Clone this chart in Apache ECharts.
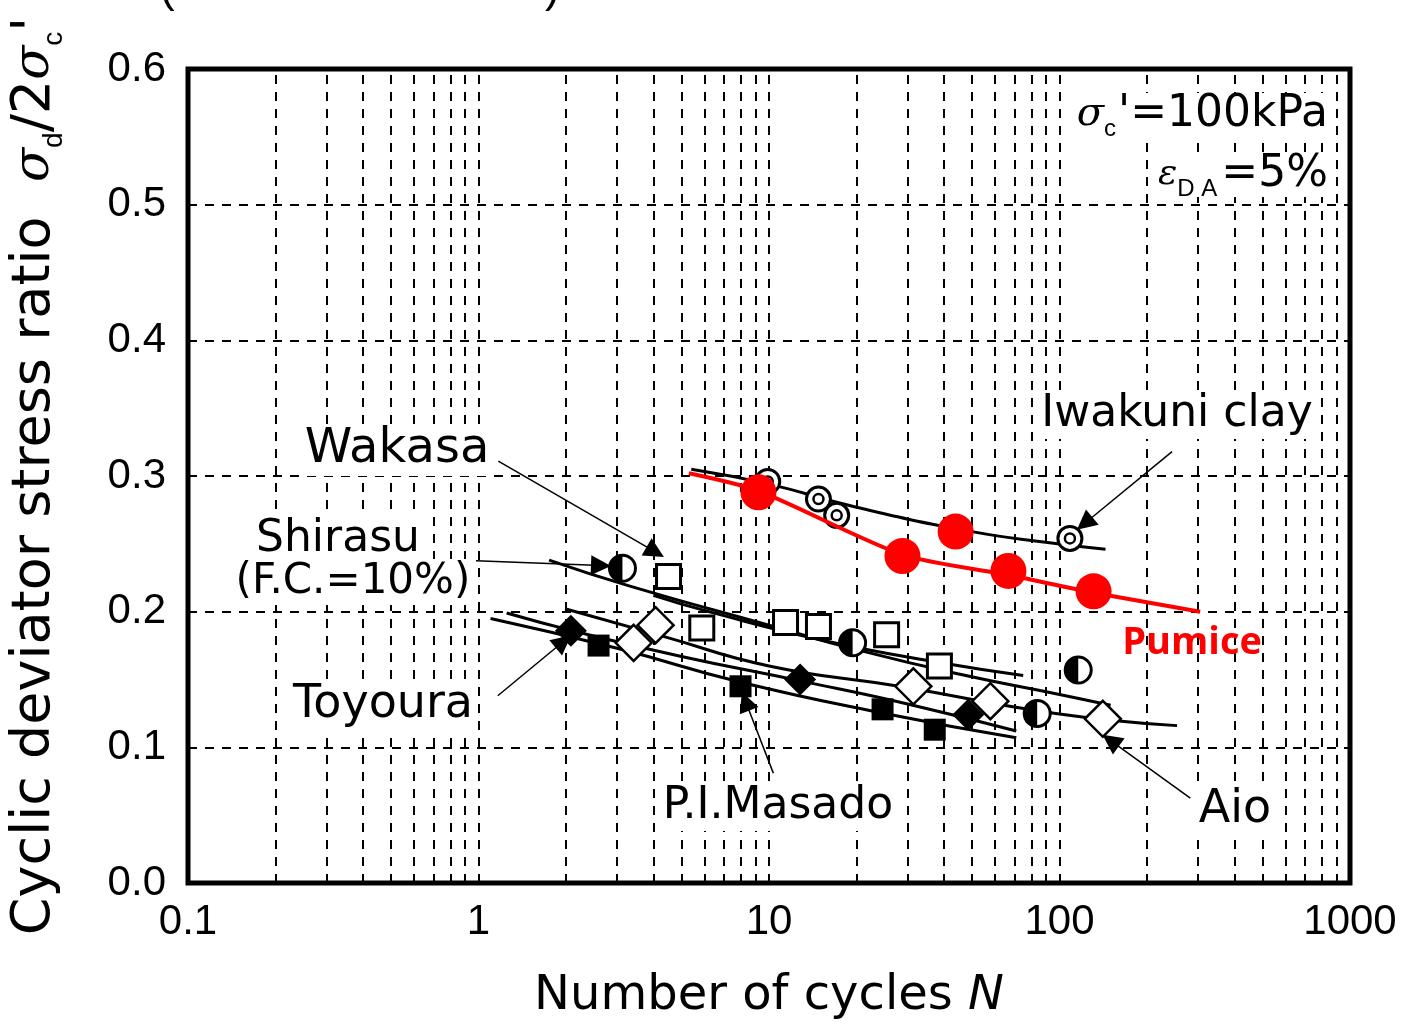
<!DOCTYPE html>
<html lang="en">
<head>
    <meta charset="UTF-8">
    <title>Cyclic deviator stress ratio - Number of cycles</title>
    <script src="https://cdn.jsdelivr.net/npm/echarts@6/dist/echarts.min.js"></script>
</head>
<body style="margin:0; background:#fff;">

<div id="main" style="width:1409px; height:1026px;"></div>

<script>
    // values, [N, sigma_d / 2 sigma_c']
    var pumicePts   = [[9.2, 0.288], [28.8, 0.241], [43.9, 0.259], [66.7, 0.230], [131, 0.215]];
    var pumiceCurve = [[5.3, 0.302], [9.2, 0.289], [28.8, 0.242], [66.7, 0.227], [131, 0.214], [305, 0.200]];

    var iwakuniPts   = [[9.9, 0.296], [14.8, 0.283], [17.1, 0.271], [108.6, 0.254]];
    var iwakuniCurve = [[5.4, 0.305], [10, 0.294], [20, 0.277], [50, 0.259], [91, 0.251], [144, 0.246]];

    var wakasaPts   = [[4.51, 0.226], [5.87, 0.188], [11.4, 0.192], [14.8, 0.189], [25.4, 0.183], [38.6, 0.160]];
    var wakasaCurve = [[4.0, 0.212], [6.2, 0.200], [16, 0.178], [40, 0.162], [75, 0.153]];

    var shirasuPts   = [[3.13, 0.232], [19.4, 0.177], [116, 0.157], [83.8, 0.125]];
    var shirasuCurve = [[1.75, 0.238], [3.3, 0.219], [10, 0.190], [20, 0.172], [45, 0.154], [100, 0.139], [150, 0.131]];

    var toyouraPts   = [[2.08, 0.186], [12.8, 0.150], [48.5, 0.124]];
    var toyouraCurve = [[1.25, 0.199], [2.1, 0.186], [5, 0.167], [12.8, 0.149], [30, 0.132], [71, 0.112]];

    var masadoPts   = [[2.59, 0.175], [7.98, 0.145], [24.6, 0.128], [37.2, 0.113]];
    var masadoCurve = [[1.1, 0.195], [3, 0.173], [8, 0.148], [25, 0.125], [71, 0.107]];

    var aioPts   = [[4.07, 0.190], [3.42, 0.177], [31.4, 0.145], [57.8, 0.134], [141, 0.121]];
    var aioCurve = [[2.0, 0.202], [4.3, 0.182], [10, 0.160], [28, 0.145], [97, 0.125], [254, 0.116]];

    // leader arrows, [tail, head]
    var arrows = [
        [[1.17, 0.311], [4.06, 0.244]],   // Wakasa
        [[0.98, 0.2375], [2.64, 0.234]],  // Shirasu
        [[1.165, 0.138], [1.96, 0.178]],  // Toyoura
        [[10.35, 0.081], [8.3, 0.134]],   // P.I.Masado
        [[282, 0.0625], [150, 0.105]],    // Aio
        [[244, 0.318], [122, 0.265]]      // Iwakuni clay
    ];

    // vertical grid at every 1..9 x decade
    var gridN = [];
    [0.1, 1, 10, 100].forEach(function (d) {
        for (var k = 1; k <= 9; k++) {
            if (d === 0.1 && k === 1) continue;
            gridN.push(+(d * k).toPrecision(3));
        }
    });

    var FONT = '"Liberation Sans", Arial, sans-serif';
    var WIDE = '"DejaVu Sans", sans-serif';
    var SERIF = '"DejaVu Serif", serif';
    var dash = [9, 8];

    function fitLine(data) {
        return {
            type: 'line', data: data, smooth: true, symbol: 'none', z: 3,
            lineStyle: {color: '#000', width: 3}
        };
    }

    function label(text, x, y, size) {
        return {
            type: 'text', x: x, y: y, z: 50,
            style: {
                text: text, font: (size || 46) + 'px ' + WIDE, fill: '#000',
                align: 'center', verticalAlign: 'middle',
                backgroundColor: '#fff', padding: [2, 4]
            }
        };
    }

    var chart = echarts.init(document.getElementById('main'));

    chart.setOption({
        animation: false,
        backgroundColor: '#fff',
        grid: {
            left: 187, top: 69, right: 59, bottom: 141,
            show: true, borderColor: '#000', borderWidth: 5
        },
        xAxis: {
            type: 'log', logBase: 10, min: 0.1, max: 1000,
            name: '{t|Number of cycles }{i|N}',
            nameLocation: 'middle', nameGap: 90,
            nameTextStyle: {
                rich: {
                    t: {fontSize: 48, fontFamily: WIDE, color: '#000'},
                    i: {fontSize: 48, fontFamily: WIDE, color: '#000', fontStyle: 'italic'}
                }
            },
            axisLine: {show: false},
            axisTick: {show: false},
            splitLine: {show: false},
            axisLabel: {
                fontSize: 42, fontFamily: FONT, color: '#000', margin: 18,
                formatter: function (v) { return String(v); }
            }
        },
        yAxis: {
            type: 'value', min: 0, max: 0.6, interval: 0.1,
            name: '{t|Cyclic deviator stress ratio  }{s|σ}{b|d}{t|/2}{s|σ}{b|c}{t|\'}',
            nameLocation: 'middle', nameGap: 126,
            nameTextStyle: {
                rich: {
                    t: {fontSize: 54, fontFamily: WIDE, color: '#000'},
                    s: {fontSize: 50, fontFamily: SERIF, fontStyle: 'italic', color: '#000'},
                    b: {fontSize: 28, fontFamily: FONT, color: '#000', verticalAlign: 'bottom', padding: [0, 0, -6, 0]}
                }
            },
            axisLine: {show: false},
            axisTick: {show: false},
            splitLine: {show: true, lineStyle: {color: '#000', width: 2, type: dash}},
            axisLabel: {
                fontSize: 42, fontFamily: FONT, color: '#000', margin: 22,
                formatter: function (v) { return v.toFixed(1); }
            }
        },
        series: [
            {   // vertical dashed grid
                type: 'line', data: [], z: 1, silent: true,
                markLine: {
                    silent: true, symbol: 'none', label: {show: false},
                    lineStyle: {color: '#000', width: 2, type: dash},
                    data: gridN.map(function (v) { return {xAxis: v}; })
                }
            },
            fitLine(iwakuniCurve),
            fitLine(wakasaCurve),
            fitLine(shirasuCurve),
            fitLine(toyouraCurve),
            fitLine(masadoCurve),
            fitLine(aioCurve),
            {   // Iwakuni clay: double circle
                type: 'scatter', data: iwakuniPts, symbol: 'circle', symbolSize: 24, z: 5,
                itemStyle: {color: '#fff', borderColor: '#000', borderWidth: 3, opacity: 1}
            },
            {
                type: 'scatter', data: iwakuniPts, symbol: 'circle', symbolSize: 10, z: 6,
                itemStyle: {color: '#fff', borderColor: '#000', borderWidth: 2.5, opacity: 1}
            },
            {   // Shirasu: half-filled circle
                type: 'scatter', data: shirasuPts, symbol: 'circle', symbolSize: 26, z: 5,
                itemStyle: {color: '#fff', borderColor: '#000', borderWidth: 3, opacity: 1}
            },
            {
                type: 'scatter', data: shirasuPts, symbol: 'path://M10 0 A10 10 0 0 0 10 20 Z',
                symbolSize: [13, 26], symbolOffset: [-6.5, 0], z: 6,
                itemStyle: {color: '#000', opacity: 1}
            },
            {   // Wakasa: open square
                type: 'scatter', data: wakasaPts, symbol: 'rect', symbolSize: 24, z: 5,
                itemStyle: {color: '#fff', borderColor: '#000', borderWidth: 3, opacity: 1}
            },
            {   // Toyoura: filled diamond
                type: 'scatter', data: toyouraPts, symbol: 'diamond', symbolSize: 32, z: 5,
                itemStyle: {color: '#000', opacity: 1}
            },
            {   // P.I.Masado: filled square
                type: 'scatter', data: masadoPts, symbol: 'rect', symbolSize: 22, z: 5,
                itemStyle: {color: '#000', opacity: 1}
            },
            {   // Aio: open diamond
                type: 'scatter', data: aioPts, symbol: 'diamond', symbolSize: 36, z: 5,
                itemStyle: {color: '#fff', borderColor: '#000', borderWidth: 2.5, opacity: 1}
            },
            {   // leader arrows
                type: 'lines', coordinateSystem: 'cartesian2d', z: 7,
                symbol: ['none', 'triangle'], symbolSize: 20,
                lineStyle: {color: '#000', width: 1.5, opacity: 1},
                data: arrows.map(function (a) { return {coords: a}; })
            },
            {   // Pumice curve
                type: 'line', data: pumiceCurve, smooth: 0.25, symbol: 'none', z: 8,
                lineStyle: {color: '#f00', width: 4}
            },
            {
                type: 'scatter', data: pumicePts, symbol: 'circle', symbolSize: 36, z: 9,
                itemStyle: {color: '#f00', opacity: 1}
            }
        ],
        graphic: [
            label('Wakasa', 397, 450, 48),
            label('Shirasu', 338, 540, 44),
            label('(F.C.=10%)', 353, 582, 42),
            label('Toyoura', 383, 705, 46),
            label('P.I.Masado', 778, 807, 44),
            label('Iwakuni clay', 1177, 415, 44),
            label('Aio', 1235, 810, 46),
            {
                type: 'text', x: 1192, y: 643, z: 50,
                style: {
                    text: 'Pumice', font: 'bold 38px "Open Sans", sans-serif', fill: '#f00',
                    align: 'center', verticalAlign: 'middle'
                }
            },
            {
                type: 'text', x: 1328, y: 115, z: 50,
                style: {
                    text: '{s|σ}{b|c}{t|\'=100kPa}', align: 'right', verticalAlign: 'middle',
                    backgroundColor: '#fff',
                    rich: {
                        t: {fontSize: 44, fontFamily: WIDE, fill: '#000'},
                        s: {fontSize: 40, fontFamily: SERIF, fontStyle: 'italic', fill: '#000'},
                        b: {fontSize: 24, fontFamily: FONT, fill: '#000', verticalAlign: 'bottom', padding: [0, 2, -4, 0]}
                    }
                }
            },
            {
                type: 'text', x: 1328, y: 175, z: 50,
                style: {
                    text: '{s|ε}{b|D A}{t|=5%}', align: 'right', verticalAlign: 'middle',
                    backgroundColor: '#fff',
                    rich: {
                        t: {fontSize: 44, fontFamily: WIDE, fill: '#000'},
                        s: {fontSize: 36, fontFamily: SERIF, fontStyle: 'italic', fill: '#000'},
                        b: {fontSize: 24, fontFamily: FONT, fill: '#000', verticalAlign: 'bottom', padding: [0, 4, -4, 0]}
                    }
                }
            },
            {
                type: 'text', x: 160, y: -32, z: 50,
                style: {text: '(', font: '44px ' + FONT, fill: '#000'}
            },
            {
                type: 'text', x: 545, y: -32, z: 50,
                style: {text: ')', font: '44px ' + FONT, fill: '#000'}
            }
        ]
    });
</script>
</body>
</html>
